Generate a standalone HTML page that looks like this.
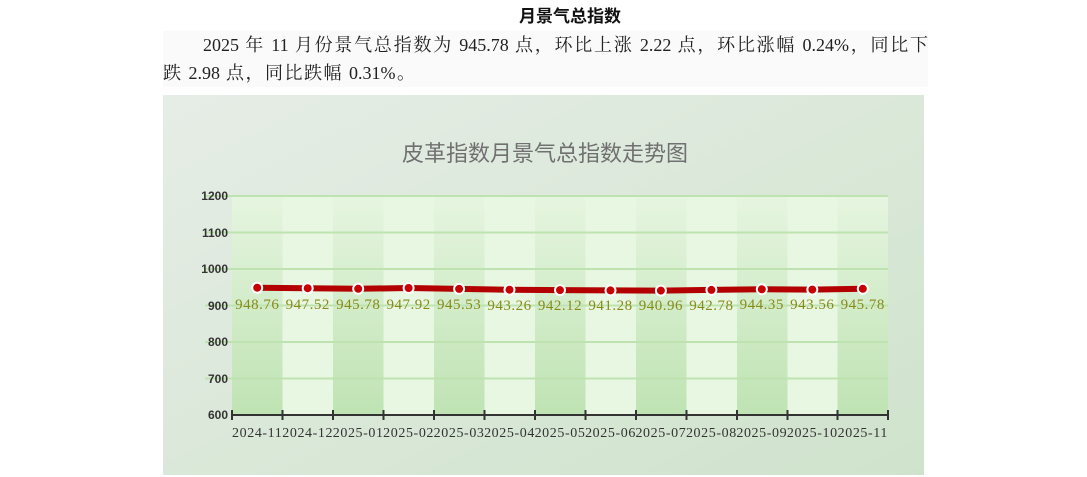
<!DOCTYPE html>
<html><head><meta charset="utf-8"><style>
body{margin:0;width:1087px;height:477px;background:#fff;overflow:hidden;position:relative;font-family:"Liberation Serif","Noto Serif CJK SC",serif}
.t{position:absolute;top:2px;left:0;width:1140px;text-align:center;font:bold 17px "Liberation Sans","Noto Sans CJK SC",sans-serif;color:#111}
.bgp{position:absolute;left:163px;top:31px;width:765px;height:56px;background:#fafafa}
.l{position:absolute;font-size:18px;line-height:20px;color:#222;white-space:nowrap;text-align:justify;text-align-last:justify}
svg{position:absolute;left:0;top:0}
</style></head><body>
<div class="t">月景气总指数</div>
<div class="bgp"></div>
<div class="l" style="left:203px;top:35px;width:725px">2025 年 11 月份景气总指数为 945.78 点，环比上涨 2.22 点，环比涨幅 0.24%，同比下</div>
<div class="l" style="left:163px;top:63px;width:252px">跌 2.98 点，同比跌幅 0.31%。</div>
<svg width="1087" height="477">
<defs>
<linearGradient id="bg" x1="0" y1="0" x2="1" y2="1"><stop offset="0" stop-color="#e6ede6"/><stop offset="1" stop-color="#cfe3cc"/></linearGradient>
<linearGradient id="dk" x1="0" y1="0" x2="0" y2="1"><stop offset="0" stop-color="#e6f5e0"/><stop offset="1" stop-color="#bfe3b3"/></linearGradient>
</defs>
<rect x="163" y="95" width="761" height="380" fill="url(#bg)"/>
<text x="545" y="161" text-anchor="middle" font-family="Liberation Sans,Noto Sans CJK SC,sans-serif" font-size="22" fill="#707070">皮革指数月景气总指数走势图</text>
<rect x="232" y="196" width="656" height="219" fill="#e8f7e2"/>
<g fill="url(#dk)">
<rect x="232" y="196" width="50.5" height="219"/><rect x="333" y="196" width="50.5" height="219"/><rect x="434" y="196" width="50.5" height="219"/><rect x="535" y="196" width="50.5" height="219"/><rect x="636" y="196" width="50.5" height="219"/><rect x="737" y="196" width="50.5" height="219"/><rect x="837.5" y="196" width="50.5" height="219"/>
</g>
<g stroke="#bfe3b0" stroke-width="2">
<line x1="205" y1="196" x2="888" y2="196"/><line x1="205" y1="232.5" x2="888" y2="232.5"/><line x1="205" y1="269" x2="888" y2="269"/><line x1="205" y1="305.5" x2="888" y2="305.5"/><line x1="205" y1="342" x2="888" y2="342"/><line x1="205" y1="378.5" x2="888" y2="378.5"/>
</g>
<g font-family="Liberation Sans,sans-serif" font-size="12" font-weight="bold" fill="#333" text-anchor="end">
<text x="228" y="200">1200</text><text x="228" y="237">1100</text><text x="228" y="273">1000</text><text x="228" y="310">900</text><text x="228" y="346">800</text><text x="228" y="383">700</text><text x="228" y="419">600</text>
</g>
<path d="M232 415H888M232 410V420M282.5 410V420M333 410V420M383.5 410V420M434 410V420M484.5 410V420M535 410V420M585.5 410V420M636 410V420M686.5 410V420M737 410V420M787.5 410V420M837.5 410V420M888 410V420" stroke="#333" stroke-width="2" fill="none"/>
<g font-size="14" fill="#333" text-anchor="middle" letter-spacing="0.6">
<text x="257.2" y="437">2024-11</text><text x="307.7" y="437">2024-12</text><text x="358.2" y="437">2025-01</text><text x="408.6" y="437">2025-02</text><text x="459.1" y="437">2025-03</text><text x="509.5" y="437">2025-04</text><text x="560" y="437">2025-05</text><text x="610.5" y="437">2025-06</text><text x="660.9" y="437">2025-07</text><text x="711.4" y="437">2025-08</text><text x="761.8" y="437">2025-09</text><text x="812.3" y="437">2025-10</text><text x="862.8" y="437">2025-11</text>
</g>
<polyline points="257.2,287.7 307.7,288.2 358.2,288.8 408.6,288 459.1,288.9 509.5,289.7 560,290.1 610.5,290.4 660.9,290.6 711.4,289.9 761.8,289.3 812.3,289.6 862.8,288.8" fill="none" stroke="#b30000" stroke-width="6"/>
<g fill="#c80000" stroke="#fff" stroke-width="2">
<circle cx="257.2" cy="287.7" r="5"/><circle cx="307.7" cy="288.2" r="5"/><circle cx="358.2" cy="288.8" r="5"/><circle cx="408.6" cy="288" r="5"/><circle cx="459.1" cy="288.9" r="5"/><circle cx="509.5" cy="289.7" r="5"/><circle cx="560" cy="290.1" r="5"/><circle cx="610.5" cy="290.4" r="5"/><circle cx="660.9" cy="290.6" r="5"/><circle cx="711.4" cy="289.9" r="5"/><circle cx="761.8" cy="289.3" r="5"/><circle cx="812.3" cy="289.6" r="5"/><circle cx="862.8" cy="288.8" r="5"/>
</g>
<g font-size="15" fill="#8a8a1a" text-anchor="middle" letter-spacing="0.5">
<text x="257.2" y="309">948.76</text><text x="307.7" y="309">947.52</text><text x="358.2" y="309">945.78</text><text x="408.6" y="309">947.92</text><text x="459.1" y="309">945.53</text><text x="509.5" y="310">943.26</text><text x="560" y="310">942.12</text><text x="610.5" y="310">941.28</text><text x="660.9" y="310">940.96</text><text x="711.4" y="310">942.78</text><text x="761.8" y="309">944.35</text><text x="812.3" y="309">943.56</text><text x="862.8" y="309">945.78</text>
</g>
</svg>
</body></html>
